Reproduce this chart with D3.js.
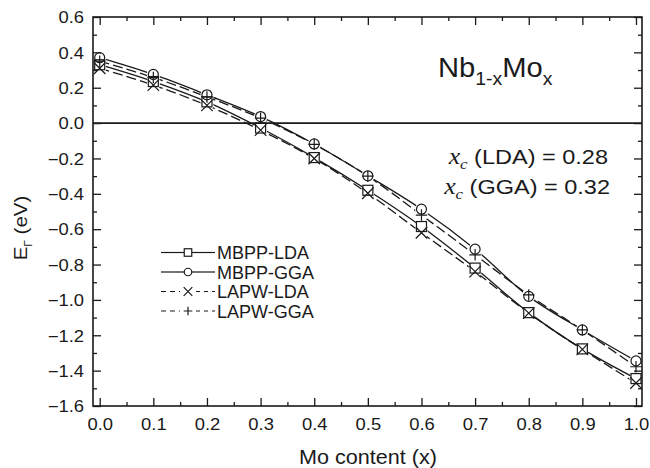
<!DOCTYPE html>
<html>
<head>
<meta charset="utf-8">
<script src="https://cdn.jsdelivr.net/npm/d3@7"></script>
<style>
  html, body { margin: 0; padding: 0; background: #fff; }
  svg { display: block; }
  text { font-family: "Liberation Sans", Arial, Helvetica, sans-serif; fill: #1a1a1a; }
</style>
</head>
<body>
<svg id="chart" width="650" height="468"></svg>
<script>
// Mo content x of the Nb(1-x)Mo(x) alloys
const moContent = [0.0, 0.1, 0.2, 0.3, 0.4, 0.5, 0.6, 0.7, 0.8, 0.9, 1.0];

// E_Gamma (eV) for each method
const mbppLda = [0.33, 0.235, 0.12, -0.028, -0.195, -0.38, -0.585, -0.82, -1.072, -1.277, -1.445];
const mbppGga = [0.37, 0.275, 0.16, 0.037, -0.118, -0.298, -0.487, -0.713, -0.98, -1.17, -1.345];
const lapwLda = [0.31, 0.215, 0.10, -0.04, -0.20, -0.397, -0.62, -0.84, -1.075, -1.28, -1.47];
const lapwGga = [0.35, 0.258, 0.148, 0.028, -0.12, -0.30, -0.52, -0.745, -0.972, -1.17, -1.378];

const seriesNames = ["MBPP-LDA", "MBPP-GGA", "LAPW-LDA", "LAPW-GGA"];

// axis ticks
const xMajorTicks = [0.0, 0.1, 0.2, 0.3, 0.4, 0.5, 0.6, 0.7, 0.8, 0.9, 1.0];
const xMinorTicks = [0.05, 0.15, 0.25, 0.35, 0.45, 0.55, 0.65, 0.75, 0.85, 0.95];
const yMajorTicks = [0.6, 0.4, 0.2, 0.0, -0.2, -0.4, -0.6, -0.8, -1.0, -1.2, -1.4, -1.6];
const yMinorTicks = [0.5, 0.3, 0.1, -0.1, -0.3, -0.5, -0.7, -0.9, -1.1, -1.3, -1.5];

const xcLabels = [["LDA", "0.28"], ["GGA", "0.32"]];

const svg = d3.select("#chart");
const plotLeft = 93, plotRight = 642, plotTop = 17, plotBottom = 406;

const x = d3.scaleLinear().domain([-0.0125, 1.0112]).range([plotLeft, plotRight]);
const y = d3.scaleLinear().domain([-1.6, 0.6]).range([plotBottom, plotTop]);

const series = [
  { name: seriesNames[0], values: mbppLda, marker: "square", dash: null },
  { name: seriesNames[1], values: mbppGga, marker: "circle", dash: null },
  { name: seriesNames[2], values: lapwLda, marker: "cross", dash: "10,4" },
  { name: seriesNames[3], values: lapwGga, marker: "plus", dash: "10,4" }
];

// mask that opens small gaps in the curves around every data point
const defs = svg.append("defs");
const mask = defs.append("mask").attr("id", "gaps").attr("maskUnits", "userSpaceOnUse")
  .attr("x", 0).attr("y", 0).attr("width", 650).attr("height", 468);
mask.append("rect").attr("width", 650).attr("height", 468).attr("fill", "#fff");
series.forEach(s => {
  mask.selectAll(null).data(s.values).enter().append("circle")
    .attr("cx", (d, i) => x(moContent[i])).attr("cy", d => y(d)).attr("r", 6.5).attr("fill", "#000");
});

// zero line
svg.append("line")
  .attr("x1", plotLeft).attr("x2", plotRight).attr("y1", y(0)).attr("y2", y(0))
  .attr("stroke", "#1a1a1a").attr("stroke-width", 1.6);

// curves
const line = d3.line().x((d, i) => x(moContent[i])).y(d => y(d)).curve(d3.curveCatmullRom.alpha(0.5));
const curves = svg.append("g").attr("mask", "url(#gaps)");
series.forEach(s => {
  curves.append("path").attr("d", line(s.values))
    .attr("fill", "none").attr("stroke", "#1a1a1a").attr("stroke-width", 1.3)
    .attr("stroke-dasharray", s.dash);
});

// marker drawing
function drawMarker(g, type, cx, cy, size) {
  const h = size / 2;
  const st = { stroke: "#1a1a1a", "stroke-width": 1.2, fill: "none" };
  let el;
  if (type === "square") {
    el = g.append("rect").attr("x", cx - h).attr("y", cy - h).attr("width", size).attr("height", size);
  } else if (type === "circle") {
    el = g.append("circle").attr("cx", cx).attr("cy", cy).attr("r", h);
  } else if (type === "cross") {
    const k = h * 1.15;
    el = g.append("path").attr("d", `M${cx - k},${cy - k}L${cx + k},${cy + k}M${cx - k},${cy + k}L${cx + k},${cy - k}`);
  } else {
    const k = h * 1.15;
    el = g.append("path").attr("d", `M${cx - k},${cy}L${cx + k},${cy}M${cx},${cy - k}L${cx},${cy + k}`);
  }
  Object.entries(st).forEach(([a, v]) => el.attr(a, v));
}

const marks = svg.append("g");
series.forEach(s => {
  s.values.forEach((v, i) => drawMarker(marks, s.marker, x(moContent[i]), y(v), 10));
});

// axes with inward ticks on all four sides
function styleAxis(g) {
  g.select(".domain").remove();
  g.selectAll(".tick line").attr("stroke", "#1a1a1a").attr("stroke-width", 1.3);
}
const fmt = d3.format(".1f");
const tickFont = 16, tickStretch = 1.15;

const bx = svg.append("g").attr("transform", `translate(0,${plotBottom})`)
  .call(d3.axisBottom(x).tickValues(xMajorTicks).tickSize(-8).tickFormat(fmt));
styleAxis(bx);
bx.selectAll(".tick text").attr("y", 0).attr("dy", "0.71em")
  .attr("transform", `translate(0,13) scale(${tickStretch},1)`)
  .style("font-size", tickFont + "px").attr("fill", "#1a1a1a");
svg.append("g").attr("transform", `translate(0,${plotBottom})`)
  .call(d3.axisBottom(x).tickValues(xMinorTicks).tickSize(-4).tickFormat("")).call(styleAxis);

const ly = svg.append("g").attr("transform", `translate(${plotLeft},0)`)
  .call(d3.axisLeft(y).tickValues(yMajorTicks).tickSize(-8).tickFormat(fmt));
styleAxis(ly);
ly.selectAll(".tick text").attr("x", 0).attr("dy", "0.36em")
  .attr("transform", `translate(-9,0) scale(${tickStretch},1)`)
  .style("font-size", tickFont + "px").attr("fill", "#1a1a1a");
svg.append("g").attr("transform", `translate(${plotLeft},0)`)
  .call(d3.axisLeft(y).tickValues(yMinorTicks).tickSize(-4).tickFormat("")).call(styleAxis);

svg.append("g").attr("transform", `translate(0,${plotTop})`)
  .call(d3.axisTop(x).tickValues(xMajorTicks).tickSize(-8).tickFormat("")).call(styleAxis);
svg.append("g").attr("transform", `translate(0,${plotTop})`)
  .call(d3.axisTop(x).tickValues(xMinorTicks).tickSize(-4).tickFormat("")).call(styleAxis);
svg.append("g").attr("transform", `translate(${plotRight},0)`)
  .call(d3.axisRight(y).tickValues(yMajorTicks).tickSize(-8).tickFormat("")).call(styleAxis);
svg.append("g").attr("transform", `translate(${plotRight},0)`)
  .call(d3.axisRight(y).tickValues(yMinorTicks).tickSize(-4).tickFormat("")).call(styleAxis);

// frame
svg.append("rect").attr("x", plotLeft).attr("y", plotTop)
  .attr("width", plotRight - plotLeft).attr("height", plotBottom - plotTop)
  .attr("fill", "none").attr("stroke", "#1a1a1a").attr("stroke-width", 1.6);

// axis titles
svg.append("text").attr("transform", "translate(368,464) scale(1.08,1)")
  .attr("text-anchor", "middle").style("font-size", "20px").text("Mo content (x)");

const yt = svg.append("text").attr("transform", "translate(27,228) rotate(-90) scale(1.08,1)")
  .attr("text-anchor", "middle").style("font-size", "19px");
yt.append("tspan").text("E");
yt.append("tspan").attr("dy", 5).style("font-size", "11px").text("Γ");
yt.append("tspan").attr("dy", -5).text(" (eV)");

// alloy label
const nb = svg.append("text").attr("transform", "translate(438,77) scale(1.08,1)").style("font-size", "27px");
nb.append("tspan").text("Nb");
nb.append("tspan").attr("dy", 8).style("font-size", "18px").text("1-x");
nb.append("tspan").attr("dy", -8).text("Mo");
nb.append("tspan").attr("dy", 8).style("font-size", "18px").text("x");

// critical concentrations
xcLabels.forEach(([m, v], i) => {
  const t = svg.append("text").attr("transform", `translate(${608 + i * 2},${164 + i * 30}) scale(1.12,1)`)
    .attr("text-anchor", "end").style("font-size", "21px");
  t.append("tspan").style("font-family", "'Liberation Serif', 'Times New Roman', serif")
    .style("font-style", "italic").style("font-size", "23px").text("x");
  t.append("tspan").attr("dy", 5).style("font-family", "'Liberation Serif', 'Times New Roman', serif")
    .style("font-style", "italic").style("font-size", "15px").text("c");
  t.append("tspan").attr("dy", -5).text(` (${m}) = ${v}`);
});

// legend
const legY = [252.5, 272, 291.5, 311];
const lg = svg.append("g");
series.forEach((s, i) => {
  const yy = legY[i];
  if (s.dash) {
    lg.append("line").attr("x1", 161).attr("x2", 180).attr("y1", yy).attr("y2", yy)
      .attr("stroke", "#1a1a1a").attr("stroke-width", 1.2).attr("stroke-dasharray", "5,4");
    lg.append("line").attr("x1", 196).attr("x2", 215).attr("y1", yy).attr("y2", yy)
      .attr("stroke", "#1a1a1a").attr("stroke-width", 1.2).attr("stroke-dasharray", "4,4");
  } else {
    lg.append("line").attr("x1", 161).attr("x2", 184).attr("y1", yy).attr("y2", yy)
      .attr("stroke", "#1a1a1a").attr("stroke-width", 1.2);
    lg.append("line").attr("x1", 192).attr("x2", 215).attr("y1", yy).attr("y2", yy)
      .attr("stroke", "#1a1a1a").attr("stroke-width", 1.2);
  }
  drawMarker(lg, s.marker, 188, yy, 7.5);
  lg.append("text").attr("x", 217).attr("y", yy + 6.5).style("font-size", "18px").text(s.name);
});
</script>
</body>
</html>
